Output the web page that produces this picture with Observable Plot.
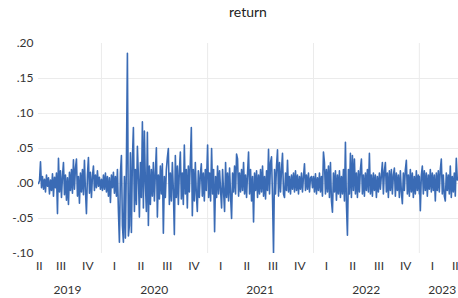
<!DOCTYPE html>
<html>
<head>
<meta charset="utf-8">
<script src="https://cdn.jsdelivr.net/npm/d3@7"></script>
<script src="https://cdn.jsdelivr.net/npm/@observablehq/plot@0.6"></script>
<style>
  body { margin: 0; background: #fff; font-family: Lato, "Open Sans", sans-serif; }
  #title { width: 420px; padding-left: 38px; height: 24px; line-height: 24px; text-align: center; font-size: 14px; color: #222; }
</style>
</head>
<body>
<div id="title">return</div>
<div id="chart"></div>
<script>
// daily-ish returns, one value per ~3.4 days
const ret2019 = [.000,.004,.031,-.006,.010,-.008,.006,-.012,.012,-.004,.008,-.015,.005,-.010,.014,-.018,.009,-.006,.015,-.043,.036,-.012,.018,-.020,.010,.030,-.016,.012,-.024,.008,-.030,.016,-.010,.020,-.014,.034,-.008,.022,.035,-.018,.010,-.028,.015,-.012,.020,-.016,.033,-.010,-.043,.012,.037,-.014,.016,-.020,.010,.025,-.010,.012,-.006,.018,-.004,.009,-.008];
const ret2020 = [.006,-.010,.012,-.008,.015,-.012,.010,-.018,.008,-.027,.012,-.006,.016,-.014,.010,-.018,.020,-.040,-.084,.015,.040,-.060,-.084,.010,-.078,.030,.186,-.075,-.060,.044,-.070,.035,.080,-.040,.020,-.030,.053,.010,-.048,.030,-.020,.088,-.035,.075,.000,-.040,.073,-.060,.025,-.030,.020,-.018,.030,-.025,.015,.051,-.048,.012,-.022,.025,-.015,.028,-.071,.010,-.020,.020,.037,.050,-.030,.015,-.025,.030,-.010,-.073,.040,-.020,.025,-.030,.018,.045,-.022,.015,-.030,.055,-.015,.020,-.035,.025,-.012,.030,.080,-.046,.020,-.025,.030,-.015,-.040,.018,-.020,.012,.028,-.018,.015,-.025,.020,-.010];
const ret2021 = [.055,-.020,.015,-.025,.050,-.015,.020,-.069,.010,-.020,.025,-.015,.018,-.010,-.035,.020,-.012,-.040,.030,-.020,.015,-.025,.022,-.018,-.050,.015,-.012,.025,-.015,.042,.035,-.018,.015,-.012,.020,-.010,.030,-.015,.012,-.020,.015,.045,-.015,.020,-.025,.010,-.055,.015,-.010,.018,-.020,.012,-.015,.020,-.012,.025,-.018,.010,-.022,.018,-.010,.049,-.015,.030,.038,-.020,-.099,.020,-.015,.025,.048,-.018,.030,-.012,.020,.043,-.015,-.020,.015,-.010,.033,-.012,.010,-.015,.012,-.008,.015,-.012,.018,-.010,.012,-.015,.010,-.008,.015,-.012,.010,.028,-.010,.012,-.008,.015,-.012,.008,.010,-.006];
const ret2022 = [.010,-.012,.014,-.015,.008,-.010,.015,-.012,.010,-.018,.045,.030,-.015,.020,-.012,.025,-.020,.030,-.025,-.041,.015,-.012,.018,-.024,.012,-.015,.018,-.020,.010,-.015,.020,-.025,.059,-.030,-.074,.020,-.015,.043,-.020,.040,-.010,.035,-.015,.015,-.020,.018,-.012,.020,.035,-.015,.012,-.018,.015,-.010,.020,-.012,.043,-.015,.012,-.018,.015,-.010,.012,-.020,.010,-.012,.015,-.008,.012,.030,-.015,.018,.030,-.012,.015,-.020,.018,-.010,.020,-.015,.012,.022,-.018,.015,-.010,.012,-.020,.018,-.012,-.029,.015,-.010,.020,.033,-.015,.012,-.018,.020,-.012,.015,-.020,.010,-.015,.018,-.010,.012,-.015];
const ret2023 = [.010,-.039,.012,.025,-.015,.018,-.010,.015,-.018,.012,-.008,.020,-.012,.015,-.010,.012,-.025,.015,-.010,.018,-.012,.020,.035,-.015,.012,-.018,-.025,.015,-.010,.012,-.015,.025,-.020,.010,-.012,.015,-.018,.036,.005];
const segmentStarts = ["2019-05-29", "2020-01-01", "2021-01-01", "2022-01-01", "2023-01-01"];

const quarterLabels = ["II","III","IV","I","II","III","IV","I","II","III","IV","I","II","III","IV","I","II"];
const quarterDates = ["2019-06-01","2019-08-15","2019-11-15","2020-02-15","2020-05-16","2020-08-15","2020-11-15","2021-02-15","2021-05-16","2021-08-15","2021-11-15","2022-02-15","2022-05-16","2022-08-15","2022-11-15","2023-02-15","2023-05-05"];
const yearLabels = ["2019","2020","2021","2022","2023"];
const yearLabelDates = ["2019-09-06","2020-07-01","2021-07-01","2022-07-02","2023-03-21"];
const yearStarts = ["2020-01-01","2021-01-01","2022-01-01","2023-01-01"];
const yTicks = [0.20, 0.15, 0.10, 0.05, 0.00, -0.05, -0.10];
const gridY = [0.15, 0.10, 0.05, 0.00, -0.05];

const stepMs = 365 / 106 * 864e5;
const series = [ret2019, ret2020, ret2021, ret2022, ret2023];
const data = series.flatMap((vals, k) => {
  const t0 = Date.parse(segmentStarts[k]);
  return vals.map((v, i) => ({date: new Date(t0 + i * stepMs), value: v}));
});
const quarters = quarterLabels.map((l, i) => ({label: l, date: new Date(quarterDates[i])}));
const years = yearLabels.map((l, i) => ({label: l, date: new Date(yearLabelDates[i])}));

const fmt = d => d === 0 ? ".00" : (d < 0 ? "-" : "") + Math.abs(d).toFixed(2).replace(/^0/, "");

const chart = Plot.plot({
  width: 458,
  height: 274,
  marginTop: 19,
  marginBottom: 45,
  marginLeft: 38,
  marginRight: 0,
  style: {fontFamily: "Lato, 'Open Sans', sans-serif", fontSize: "12px", color: "#333", background: "#fff"},
  x: {type: "utc", domain: [new Date("2019-05-29"), new Date("2023-05-16")], axis: null},
  y: {domain: [-0.10, 0.20], axis: null},
  marks: [
    Plot.ruleY(gridY, {stroke: "#ebebeb", strokeWidth: 1}),
    Plot.ruleX(yearStarts.map(d => new Date(d)), {stroke: "#ebebeb", strokeWidth: 1}),
    Plot.axisY({ticks: yTicks, tickFormat: fmt, tickSize: 0, tickPadding: 5, fontSize: 12, fill: "#333", label: null}),
    Plot.lineY(data, {x: "date", y: "value", stroke: "#3a6bb5", strokeWidth: 1.6, clip: true}),
    Plot.text(quarters, {x: "date", text: "label", frameAnchor: "bottom", dy: 13, lineAnchor: "middle", fontSize: 12, fill: "#333"}),
    Plot.text(years, {x: "date", text: "label", frameAnchor: "bottom", dy: 37, lineAnchor: "middle", fontSize: 12, fill: "#333"})
  ]
});
document.getElementById("chart").appendChild(chart);
</script>
</body>
</html>
